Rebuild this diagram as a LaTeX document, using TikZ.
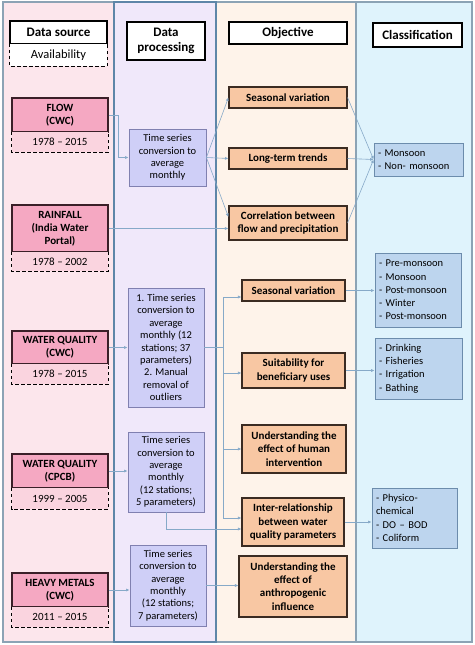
\documentclass[tikz,border=0pt]{standalone}
\usepackage{fontspec}
\setmainfont{Carlito}
\usetikzlibrary{arrows.meta}
\definecolor{colA}{HTML}{FCE6EC}
\definecolor{colB}{HTML}{F0E8FA}
\definecolor{colC}{HTML}{FEF3EA}
\definecolor{colD}{HTML}{DFF3FC}
\definecolor{colbord}{HTML}{8CA3B5}
\definecolor{colbordB}{HTML}{5E86A8}
\definecolor{srcfill}{HTML}{F5A8C2}
\definecolor{srcbord}{HTML}{3A1F28}
\definecolor{datefill}{HTML}{FAD4DF}
\definecolor{procfill}{HTML}{CFCFF7}
\definecolor{procbord}{HTML}{8080B0}
\definecolor{objfill}{HTML}{F8C7A3}
\definecolor{objbord}{HTML}{3B2B22}
\definecolor{clsfill}{HTML}{BDD5EE}
\definecolor{clsbord}{HTML}{6C8CAC}
\definecolor{conncol}{HTML}{86A9C8}
\begin{document}
\begin{tikzpicture}[x=1pt,y=-1pt,
  hdr/.style={draw=black, line width=1.1pt, fill=white, font=\bfseries\fontsize{13}{15}\selectfont, align=center, inner sep=0pt},
  avail/.style={fill=white, font=\fontsize{12.5}{14}\selectfont, inner sep=0pt},
  src/.style={draw=srcbord, line width=1.1pt, fill=srcfill, font=\bfseries\fontsize{11}{13}\selectfont, align=center, inner sep=0pt, minimum width=96pt},
  datebox/.style={fill=datefill, font=\fontsize{11}{13}\selectfont, inner sep=0pt, minimum width=96pt},
  dashside/.style={draw=black, line width=1pt, dash pattern=on 3.5pt off 2.5pt},
  proc/.style={draw=procbord, line width=0.8pt, fill=procfill, font=\fontsize{10.5}{12.4}\selectfont, align=center, inner sep=0pt},
  obj/.style={draw=objbord, line width=1.1pt, fill=objfill, font=\bfseries\fontsize{11}{13.3}\selectfont, align=center, inner sep=0pt},
  cls/.style={draw=clsbord, line width=0.8pt, fill=clsfill, font=\fontsize{10.5}{13.3}\selectfont, align=left, inner xsep=4pt, inner ysep=0pt},
  conn/.style={draw=conncol, line width=0.6pt, -{Latex[length=3.5pt,width=3pt]}},
  connl/.style={draw=conncol, line width=0.6pt}
]
\useasboundingbox (0,0) rectangle (474,645);
% columns
\draw[fill=colA, draw=colbord, line width=1.5pt] (3,2) rectangle (114,642);
\draw[fill=colC, draw=colbord, line width=1.5pt] (216,2) rectangle (356,642);
\draw[fill=colD, draw=colbord, line width=1.5pt] (356,2) rectangle (472,642);
\draw[fill=colB, draw=colbordB, line width=1.5pt] (114,2) rectangle (216,642);

% headers
\node[hdr, minimum width=97pt, minimum height=23pt] (hsrc) at (58.5,32.5) {Data source};
\node[avail, minimum width=97pt, minimum height=22pt] (havail) at (58.5,55) {Availability};
\draw[dashside] (havail.north west) -- (havail.south west) -- (havail.south east) -- (havail.north east);
\node[hdr, minimum width=78pt, minimum height=38pt] (hproc) at (166,41) {Data\\processing};
\node[hdr, minimum width=118pt, minimum height=22pt] (hobj) at (288,33) {Objective};
\node[hdr, minimum width=89pt, minimum height=24pt] (hcls) at (417.5,35) {Classification};

% sources
\node[src, minimum height=34pt] (flow) at (60,115) {FLOW\\(CWC)};
\node[datebox, minimum height=20pt] (dflow) at (60,142) {1978 – 2015};
\node[src, minimum height=47pt] (rain) at (60,228.5) {RAINFALL\\(India Water\\Portal)};
\node[datebox, minimum height=19pt] (drain) at (60,261.5) {1978 – 2002};
\node[src, minimum height=33pt] (wqc) at (60,347.5) {WATER QUALITY\\(CWC)};
\node[datebox, minimum height=20pt] (dwqc) at (60,374) {1978 – 2015};
\node[src, minimum height=34pt] (wqp) at (60,471) {WATER QUALITY\\(CPCB)};
\node[datebox, minimum height=21pt] (dwqp) at (60,498.5) {1999 – 2005};
\node[src, minimum height=34pt] (hm) at (60,590) {HEAVY METALS\\(CWC)};
\node[datebox, minimum height=20pt] (dhm) at (60,617) {2011 – 2015};
\foreach \d in {dflow,drain,dwqc,dwqp,dhm}{
  \draw[dashside] (\d.north west) -- (\d.south west) -- (\d.south east) -- (\d.north east);
}

% processing
\node[proc, minimum width=77pt, minimum height=57pt] (p1) at (167.5,157.5) {Time series\\conversion to\\average\\monthly};
\node[proc, minimum width=76pt, minimum height=119pt] (p2) at (166,347.5) {1. Time series\\conversion to\\average\\monthly (12\\stations; 37\\parameters)\\2. Manual\\removal of\\outliers};
\node[proc, minimum width=76pt, minimum height=80pt] (p3) at (166,472) {Time series\\conversion to\\average\\monthly\\(12 stations;\\5 parameters)};
\node[proc, minimum width=76pt, minimum height=81pt] (p4) at (168,585.5) {Time series\\conversion to\\average\\monthly\\(12 stations;\\7 parameters)};

% objectives
\node[obj, minimum width=118pt, minimum height=21pt] (o1) at (288,97.5) {Seasonal variation};
\node[obj, minimum width=118pt, minimum height=21pt] (o2) at (288,158.5) {Long-term trends};
\node[obj, minimum width=118pt, minimum height=34pt] (o3) at (288,223) {Correlation between\\flow and precipitation};
\node[obj, minimum width=103pt, minimum height=21pt] (o4) at (293.5,290.5) {Seasonal variation};
\node[obj, minimum width=103pt, minimum height=35pt] (o5) at (293.5,370.5) {Suitability for\\beneficiary uses};
\node[obj, minimum width=104pt, minimum height=48pt] (o6) at (294,449) {Understanding the\\effect of human\\intervention};
\node[obj, minimum width=102pt, minimum height=48pt] (o7) at (293,522) {Inter-relationship\\between water\\quality parameters};
\node[obj, minimum width=108pt, minimum height=61pt] (o8) at (293,586.5) {Understanding the\\effect of\\anthropogenic\\influence};

% classification
\node[cls, text width=81pt, minimum height=33pt] (c1) at (418.5,159.5) {- Monsoon\\- Non- monsoon};
\node[cls, text width=78pt, minimum height=74pt] (c2) at (418,290) {- Pre-monsoon\\- Monsoon\\- Post-monsoon\\- Winter\\- Post-monsoon};
\node[cls, text width=79pt, minimum height=61pt] (c3) at (418.5,368.5) {- Drinking\\- Fisheries\\- Irrigation\\- Bathing};
\node[cls, text width=77pt, minimum height=60pt] (c4) at (414.5,518) {- Physico-\\chemical\\- DO – BOD\\- Coliform};

% connectors: flow group
\draw[conn] (flow.east) -- ++(10,0) |- (p1.west);
\draw[conn] (p1.east) -- (o1.west);
\draw[conn] (p1.east) -- (o2.west);
\draw[conn] (p1.east) -- ([yshift=6pt]o3.west);
\draw[conn] (rain.east) -- (rain.east -| o3.west);
\draw[conn] (o1.east) -- (c1.west);
\draw[conn] (o2.east) -- (c1.west);
\draw[conn] (o3.east) -- (c1.west);

% water quality group
\coordinate (t4) at (223,297);
\coordinate (t5) at (223,373);
\coordinate (t6) at (223,449);
\coordinate (t7) at (223,518);
\draw[conn] (wqc.east) -- (p2.west);
\draw[connl] (p2.east) -- (p2.east -| t4);
\draw[connl] (t4) -- (t7);
\draw[conn] (t4) -- (t4 -| o4.west);
\draw[conn] (t5) -- (t5 -| o5.west);
\draw[conn] (t6) -- (t6 -| o6.west);
\draw[conn] (t7) -- (t7 -| o7.west);
\draw[conn] (wqp.east) -- (wqp.east -| p3.west);
\draw[conn] (p3.south) |- ([yshift=-7pt]o7.west);
\draw[conn] (hm.east) -- (hm.east -| p4.west);
\draw[conn] (p4.east) -- (p4.east -| o8.west);
\draw[conn] (o4.east) -- (o4.east -| c2.west);
\draw[conn] (o5.east) -- (o5.east -| c3.west);
\draw[conn] (o7.east) -- (o7.east -| c4.west);
\end{tikzpicture}
\end{document}
